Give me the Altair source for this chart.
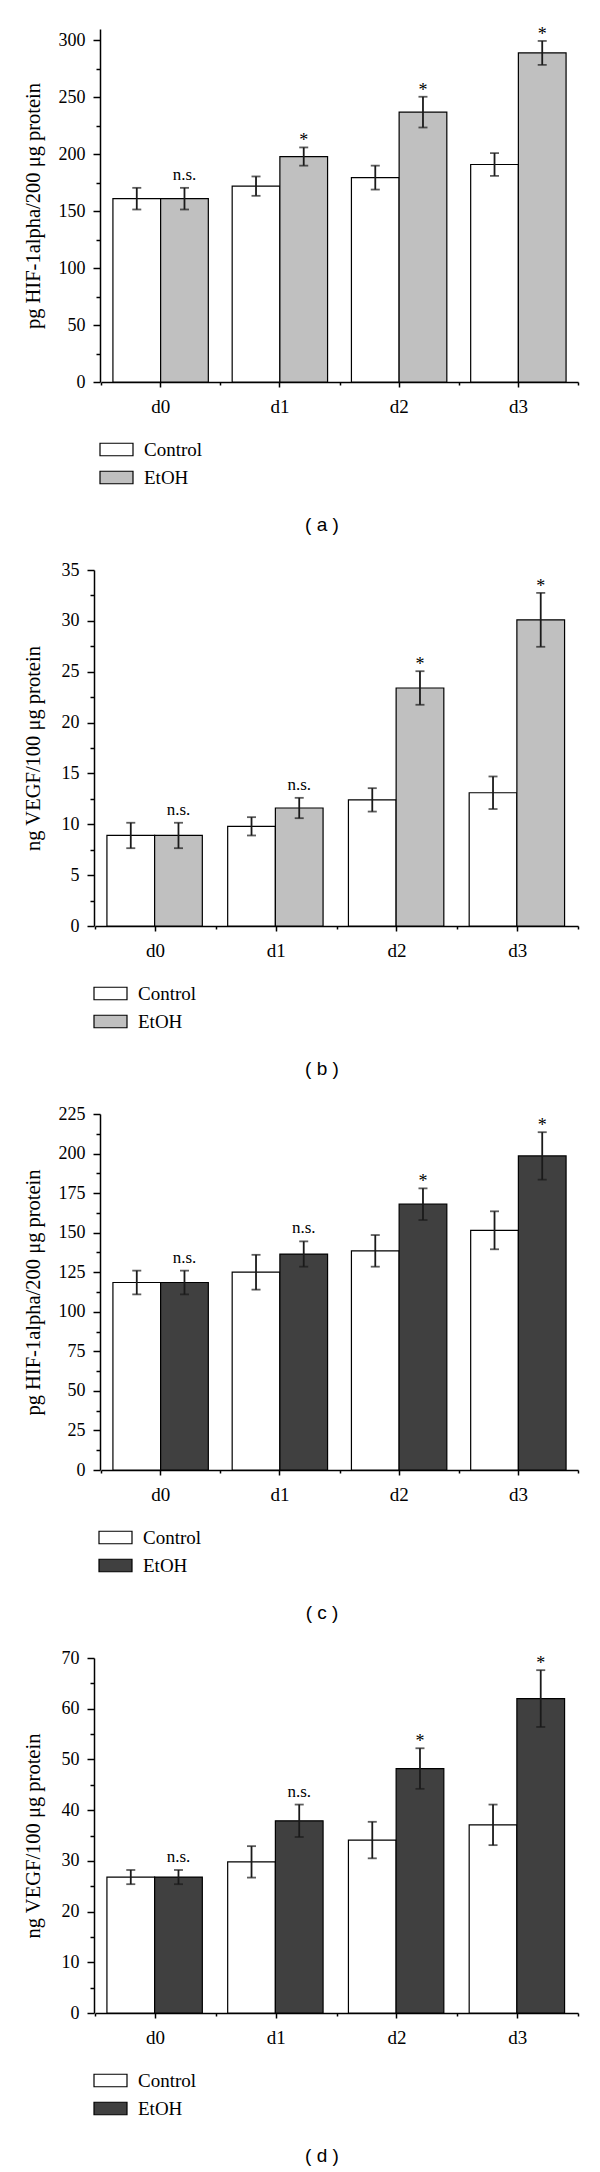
import altair as alt
import pandas as pd

days = ["d0", "d1", "d2", "d3"]
groups = ["Control", "EtOH"]

# Panel (a): HIF-1alpha, EtOH light grey
a_control = [161, 172, 179.5, 191]
a_control_err = [9.5, 8.5, 10.5, 10]
a_etoh = [161, 198, 237, 289]
a_etoh_err = [9.5, 8, 13.5, 10.5]
a_sig = ["n.s.", "*", "*", "*"]

# Panel (b): VEGF, EtOH light grey
b_control = [8.9, 9.8, 12.4, 13.1]
b_control_err = [1.25, 0.9, 1.15, 1.6]
b_etoh = [8.9, 11.6, 23.4, 30.1]
b_etoh_err = [1.25, 1.0, 1.65, 2.65]
b_sig = ["n.s.", "n.s.", "*", "*"]

# Panel (c): HIF-1alpha, EtOH dark grey
c_control = [118.5, 125, 138.5, 151.5]
c_control_err = [7.5, 11, 10, 12]
c_etoh = [118.5, 136.5, 168, 198.5]
c_etoh_err = [7.5, 8, 10, 15]
c_sig = ["n.s.", "n.s.", "*", "*"]

# Panel (d): VEGF, EtOH dark grey
d_control = [26.8, 29.8, 34.1, 37.1]
d_control_err = [1.4, 3.1, 3.6, 4.0]
d_etoh = [26.8, 37.9, 48.2, 62.0]
d_etoh_err = [1.4, 3.2, 4.0, 5.6]
d_sig = ["n.s.", "n.s.", "*", "*"]

SERIF = "Liberation Serif"
SANS = "Liberation Sans"
W = 492


def make_df(ctrl, ctrl_err, etoh, etoh_err, sig):
    rows = []
    for i, d in enumerate(days):
        rows.append(dict(day=d, group="Control", value=ctrl[i],
                         lo=ctrl[i] - ctrl_err[i], hi=ctrl[i] + ctrl_err[i], sig=""))
        rows.append(dict(day=d, group="EtOH", value=etoh[i],
                         lo=etoh[i] - etoh_err[i], hi=etoh[i] + etoh_err[i], sig=sig[i]))
    return pd.DataFrame(rows)


def panel(df, ytitle, ymax, major, minor, etoh_color, height, yaxis_x,
          title_pad, legend_x, label, first=False):
    band_start = yaxis_x + 1
    xscale = alt.Scale(domain=days, range=[band_start, W], paddingInner=0, paddingOuter=0)
    xoff_scale = alt.Scale(domain=groups, paddingInner=0, paddingOuter=0.25)
    yscale = alt.Scale(domain=[0, ymax], nice=False, zero=True)
    color_scale = alt.Scale(domain=groups, range=["#ffffff", etoh_color])

    n = int(round(ymax / minor + 1e-9))
    tick_vals = [round(k * minor, 4) for k in range(n + 1) if k * minor <= ymax + 1e-9]
    is_major = f"abs(datum.value/{major} - round(datum.value/{major})) < 0.001"

    yaxis = alt.Axis(
        title=ytitle, orient="left", offset=-yaxis_x, values=tick_vals,
        labelExpr=f"{is_major} ? datum.label : ''",
        tickSize={"condition": {"test": is_major, "value": 7}, "value": 4},
        labelPadding=8, titlePadding=title_pad, grid=False, labelOverlap=False,
        labelFontSize=18, titleFontSize=20.5,
    )
    xaxis_main = alt.Axis(orient="bottom", title=None, tickSize=5, labelPadding=10,
                          labelFontSize=19, labelAngle=0, grid=False)
    xaxis_minor = alt.Axis(orient="bottom", title=None, tickBand="extent", labels=False,
                           domain=False, tickSize=3, grid=False)

    base = alt.Chart(df)
    bars = base.mark_bar(stroke="black", strokeWidth=1.2).encode(
        x=alt.X("day:N", scale=xscale, axis=xaxis_main, sort=days),
        xOffset=alt.XOffset("group:N", scale=xoff_scale, sort=groups),
        y=alt.Y("value:Q", scale=yscale, axis=yaxis),
        color=alt.Color("group:N", scale=color_scale, legend=alt.Legend(
            orient="none", legendX=legend_x, legendY=height + 50, title=None,
            direction="vertical",
            symbolType="M-1,-0.38H1V0.38H-1Z", symbolSize=1089,
            symbolStrokeColor="black", symbolStrokeWidth=1.2, symbolOpacity=1,
            labelFont=SERIF, labelFontSize=19, labelColor="black", labelOffset=10,
            rowPadding=-5, padding=0)),
    )
    err = base.mark_rule(color="#1a1a1a", strokeWidth=1.8).encode(
        x=alt.X("day:N", scale=xscale, axis=xaxis_minor, sort=days),
        xOffset=alt.XOffset("group:N", scale=xoff_scale, sort=groups),
        y=alt.Y("lo:Q", scale=yscale, axis=None),
        y2="hi:Q",
    )
    cap_hi = base.mark_tick(color="#1a1a1a", thickness=1.8, size=9).encode(
        x=alt.X("day:N", scale=xscale, axis=None, sort=days),
        xOffset=alt.XOffset("group:N", scale=xoff_scale, sort=groups),
        y=alt.Y("hi:Q", scale=yscale, axis=None),
    )
    cap_lo = base.mark_tick(color="#1a1a1a", thickness=1.8, size=9).encode(
        x=alt.X("day:N", scale=xscale, axis=None, sort=days),
        xOffset=alt.XOffset("group:N", scale=xoff_scale, sort=groups),
        y=alt.Y("lo:Q", scale=yscale, axis=None),
    )
    ns = base.transform_filter("datum.sig == 'n.s.'").mark_text(
        font=SERIF, fontSize=17, baseline="alphabetic", dy=-8, color="black").encode(
        x=alt.X("day:N", scale=xscale, axis=None, sort=days),
        xOffset=alt.XOffset("group:N", scale=xoff_scale, sort=groups),
        y=alt.Y("hi:Q", scale=yscale, axis=None),
        text="sig:N",
    )
    star = base.transform_filter("datum.sig == '*'").mark_text(
        font=SERIF, fontSize=18, baseline="alphabetic", dy=-1, color="black").encode(
        x=alt.X("day:N", scale=xscale, axis=None, sort=days),
        xOffset=alt.XOffset("group:N", scale=xoff_scale, sort=groups),
        y=alt.Y("hi:Q", scale=yscale, axis=None),
        text="sig:N",
    )
    lab = alt.Chart(pd.DataFrame({"label": [label]})).mark_text(
        font=SANS, fontSize=19, color="black", baseline="middle").encode(
        x=alt.value(236), y=alt.value(height + 142.5), text="label:N")

    layers = [bars, err, cap_hi, cap_lo, ns, star, lab]
    if first:
        spacer = alt.Chart(pd.DataFrame({"k": [0]})).mark_rule(opacity=0).encode(
            x=alt.value(-78), x2=alt.value(-77), y=alt.value(-12))
        layers.append(spacer)
    return alt.layer(*layers).resolve_axis(x="independent", y="independent").properties(
        width=W, height=height)


pa = panel(make_df(a_control, a_control_err, a_etoh, a_etoh_err, a_sig),
           "pg HIF-1alpha/200 μg protein", 310, 50, 25, "#c0c0c0", 353, 14, 15, 13,
           "( a )", first=True)
pb = panel(make_df(b_control, b_control_err, b_etoh, b_etoh_err, b_sig),
           "ng VEGF/100 μg protein", 35, 5, 2.5, "#c0c0c0", 356, 8, 18, 7, "( b )")
pc = panel(make_df(c_control, c_control_err, c_etoh, c_etoh_err, c_sig),
           "pg HIF-1alpha/200 μg protein", 225, 25, 12.5, "#404040", 356, 14, 15, 12,
           "( c )")
pd_ = panel(make_df(d_control, d_control_err, d_etoh, d_etoh_err, d_sig),
            "ng VEGF/100 μg protein", 70, 10, 5, "#404040", 355, 8, 18, 7, "( d )")

chart = alt.vconcat(pa, pb, pc, pd_, spacing=188, bounds="flush").resolve_scale(
    color="independent", x="independent", y="independent"
).properties(
    padding={"left": 0, "top": 9, "right": 5, "bottom": 5},
    background="white",
).configure_view(stroke=None).configure_axis(
    domainColor="black", domainWidth=1.5, tickColor="black", tickWidth=1.5,
    labelColor="black", titleColor="black", labelFont=SERIF, titleFont=SERIF,
    titleFontWeight="normal",
)

chart.save("out.html", embed_options={"renderer": "svg", "actions": False})
